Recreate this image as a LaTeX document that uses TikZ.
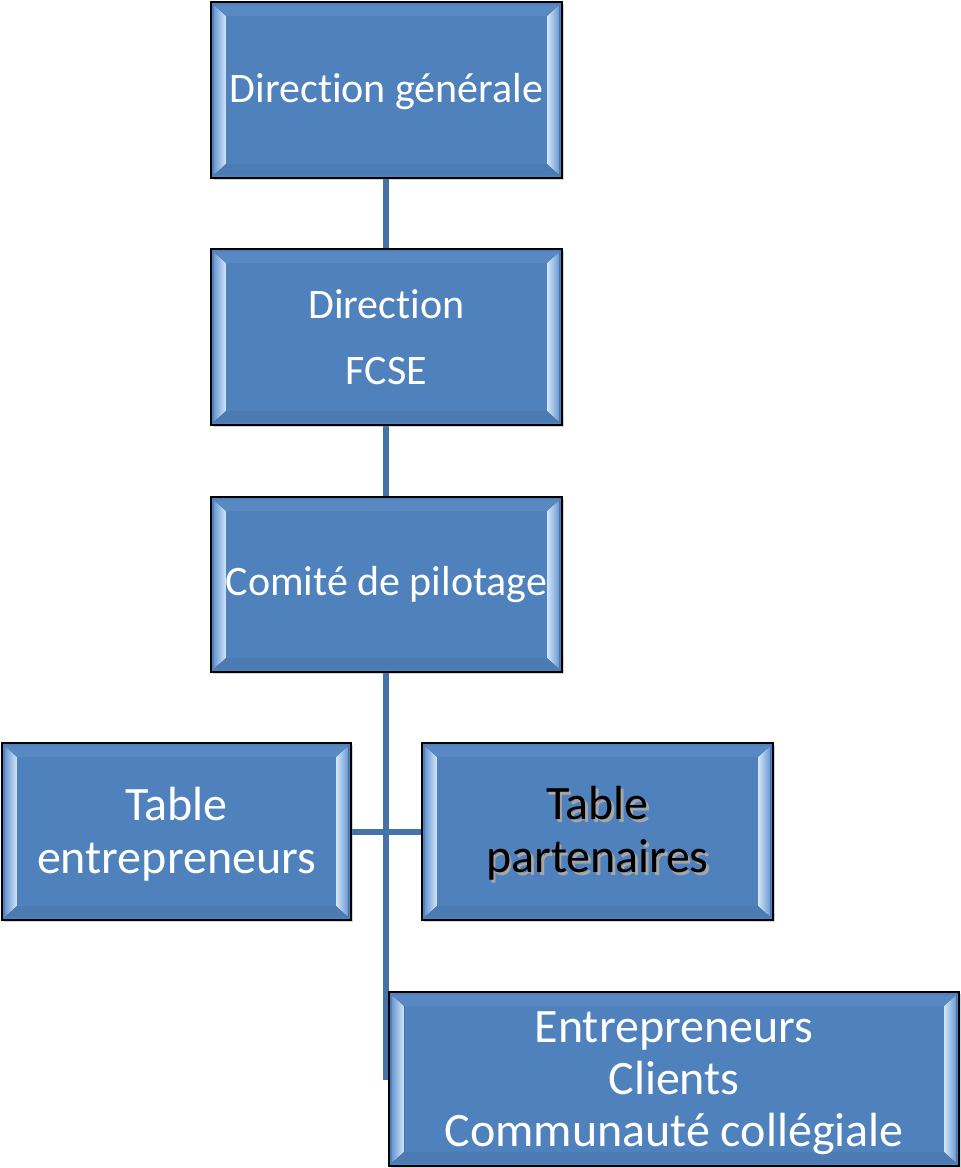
\documentclass[tikz,border=0pt]{standalone}
\usepackage{fontspec}
\setmainfont[Ligatures=NoCommon]{Carlito}
\usetikzlibrary{shadows}
\definecolor{boxblue}{HTML}{4F81BD}
\definecolor{lineblue}{HTML}{4672AA}
\definecolor{bevlight}{HTML}{D2E7FB}
\definecolor{bevmid}{HTML}{6D9AD2}
\definecolor{bevtop}{HTML}{6A98CF}
\definecolor{bevbot}{HTML}{45709F}
\newcommand{\bevelbox}[4]{%
  \fill[left color=bevmid,right color=bevlight] (#1+3,#2+3) -- (#1+15,#2+14) -- (#1+15,#4-14) -- (#1+3,#4-3) -- cycle;
  \fill[left color=bevlight,right color=bevmid] (#3-3,#2+3) -- (#3-15,#2+14) -- (#3-15,#4-14) -- (#3-3,#4-3) -- cycle;
  \fill[bevtop,opacity=.35] (#1+3,#2+3) -- (#3-3,#2+3) -- (#3-15,#2+14) -- (#1+15,#2+14) -- cycle;
  \fill[bevbot,opacity=.35] (#1+3,#4-3) -- (#3-3,#4-3) -- (#3-15,#4-14) -- (#1+15,#4-14) -- cycle;
}
\newcommand{\shtext}[1]{\leavevmode\rlap{\hspace{2.5pt}\raisebox{-2.5pt}{\textcolor{black!35}{#1}}}#1}
\begin{document}
\begin{tikzpicture}[x=1pt,y=-1pt,
  orgbox/.style={draw=black,line width=1.6pt,fill=boxblue,rectangle,inner sep=0pt,
    drop shadow={shadow xshift=2pt,shadow yshift=-2pt,opacity=.35}},
  boxtext/.style={text=white,align=center,font=\fontsize{42}{52}\selectfont},
  bigtext/.style={text=white,align=center,font=\fontsize{48}{53}\selectfont},
  conn/.style={draw=lineblue,line width=6pt}]
\useasboundingbox (0,0) rectangle (961,1168);
% connectors
\coordinate (lineend) at (386,1080);
\draw[conn] (386,178) -- (386,249);
\draw[conn] (386,425) -- (386,497);
\draw[conn] (386,672) -- (lineend);
\draw[conn] (351,832) -- (422,832);
% boxes
\node[orgbox,minimum width=351,minimum height=176] (n1) at (386.5,90) {};
\bevelbox{211}{2}{562}{178}
\node[boxtext,yshift=-2pt] (t1) at (n1.center) {Direction générale};
\node[orgbox,minimum width=351,minimum height=176] (n2) at (386.5,337) {};
\bevelbox{211}{249}{562}{425}
\node[boxtext] (t2) at (n2.center) {Direction\\[14pt]FCSE};
\node[orgbox,minimum width=351,minimum height=175] (n3) at (386.5,584.5) {};
\bevelbox{211}{497}{562}{672}
\node[boxtext] (t3) at (n3.center) {Comité de pilotage};
\node[orgbox,minimum width=349,minimum height=177] (n4) at (176.5,831.5) {};
\bevelbox{2}{743}{351}{920}
\node[bigtext,yshift=-3pt] (t4) at (n4.center) {Table\\entrepreneurs};
\node[orgbox,minimum width=351,minimum height=177] (n5) at (597.5,831.5) {};
\bevelbox{422}{743}{773}{920}
\node[bigtext,text=black,yshift=-3pt] (t5) at (n5.center) {\shtext{Table}\\\shtext{partenaires}};
\node[orgbox,minimum width=570,minimum height=174] (n6) at (674,1079) {};
\bevelbox{389}{992}{959}{1166}
\node[bigtext,font=\fontsize{48}{52}\selectfont,yshift=-4pt] (t6) at (n6.center) {Entrepreneurs\\Clients\\Communauté collégiale};
\end{tikzpicture}
\end{document}
